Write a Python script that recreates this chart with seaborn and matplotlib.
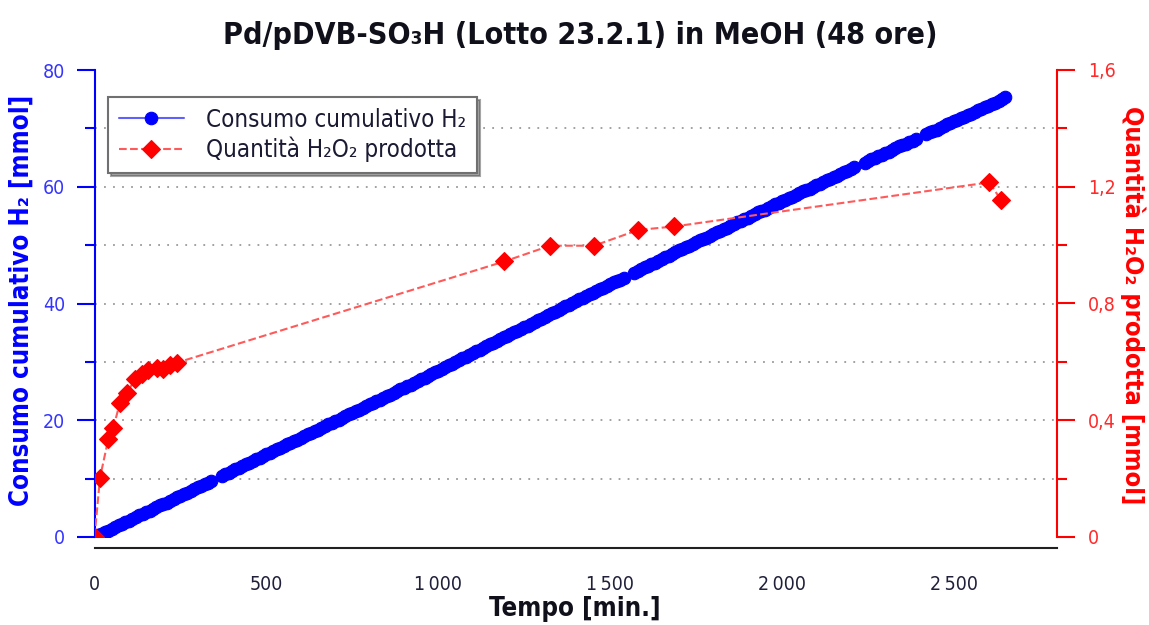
import matplotlib
matplotlib.use("Agg")
import matplotlib.pyplot as plt
import seaborn as sns
from matplotlib.ticker import FixedLocator, FixedFormatter, MultipleLocator

# ---------------- data ----------------
h2_time = [0, 10, 20, 30, 40, 50, 60, 70, 80, 90, 100,
           110, 120, 130, 140, 150, 160, 170, 180, 190, 200,
           210, 220, 230, 240, 250, 260, 270, 280, 290, 300,
           310, 320, 330, 340, 370, 380, 390, 400,
           410, 420, 430, 440, 450, 460, 470, 480, 490, 500,
           510, 520, 530, 540, 550, 560, 570, 580, 590, 600,
           610, 620, 630, 640, 650, 660, 670, 680, 690, 700,
           710, 720, 730, 740, 750, 760, 770, 780, 790, 800,
           810, 820, 830, 840, 850, 860, 870, 880, 890, 900,
           910, 920, 930, 940, 950, 960, 970, 980, 990, 1000,
           1010, 1020, 1030, 1040, 1050, 1060, 1070, 1080, 1090, 1100,
           1110, 1120, 1130, 1140, 1150, 1160, 1170, 1180, 1190, 1200,
           1210, 1220, 1230, 1240, 1250, 1260, 1270, 1280, 1290, 1300,
           1310, 1320, 1330, 1340, 1350, 1360, 1370, 1380, 1390, 1400,
           1410, 1420, 1430, 1440, 1450, 1460, 1470, 1480, 1490, 1500,
           1510, 1520, 1530, 1540, 1570, 1580, 1590, 1600,
           1610, 1620, 1630, 1640, 1650, 1660, 1670, 1680, 1690, 1700,
           1710, 1720, 1730, 1740, 1750, 1760, 1770, 1780, 1790, 1800,
           1810, 1820, 1830, 1840, 1850, 1860, 1870, 1880, 1890, 1900,
           1910, 1920, 1930, 1940, 1950, 1960, 1970, 1980, 1990, 2000,
           2010, 2020, 2030, 2040, 2050, 2060, 2070, 2080, 2090, 2100,
           2110, 2120, 2130, 2140, 2150, 2160, 2170, 2180, 2190, 2200,
           2210, 2240, 2250, 2260, 2270, 2280, 2290, 2300,
           2310, 2320, 2330, 2340, 2350, 2360, 2370, 2380, 2390,
           2420, 2430, 2440, 2450, 2460, 2470, 2480, 2490, 2500,
           2510, 2520, 2530, 2540, 2550, 2560, 2570, 2580, 2590, 2600,
           2610, 2620, 2630, 2640, 2650]
h2_mmol = [0.0, 0.3, 0.5, 0.8, 1.1, 1.4, 1.7, 2.0, 2.2, 2.5, 2.8,
           3.1, 3.4, 3.7, 4.0, 4.2, 4.5, 4.8, 5.1, 5.4, 5.7,
           5.9, 6.2, 6.5, 6.8, 7.1, 7.4, 7.6, 7.9, 8.2, 8.5,
           8.8, 9.1, 9.3, 9.6, 10.5, 10.8, 11.0, 11.3,
           11.6, 11.9, 12.2, 12.5, 12.7, 13.0, 13.3, 13.6, 13.9, 14.2,
           14.4, 14.7, 15.0, 15.3, 15.6, 15.9, 16.1, 16.4, 16.7, 17.0,
           17.3, 17.6, 17.9, 18.2, 18.4, 18.7, 19.0, 19.3, 19.6, 19.9,
           20.1, 20.4, 20.7, 21.0, 21.3, 21.6, 21.8, 22.1, 22.4, 22.7,
           23.0, 23.3, 23.5, 23.8, 24.1, 24.4, 24.7, 25.0, 25.3, 25.6,
           25.8, 26.1, 26.4, 26.7, 27.0, 27.3, 27.6, 27.9, 28.2, 28.5,
           28.8, 29.1, 29.4, 29.7, 30.0, 30.3, 30.6, 30.9, 31.2, 31.5,
           31.8, 32.1, 32.4, 32.7, 33.0, 33.3, 33.6, 33.9, 34.2, 34.5,
           34.8, 35.1, 35.3, 35.6, 35.9, 36.2, 36.5, 36.8, 37.1, 37.4,
           37.7, 38.0, 38.3, 38.6, 38.9, 39.2, 39.5, 39.8, 40.1, 40.4,
           40.7, 41.0, 41.3, 41.6, 41.8, 42.1, 42.4, 42.7, 43.0, 43.3,
           43.6, 43.9, 44.1, 44.4, 45.3, 45.6, 45.9, 46.2,
           46.5, 46.8, 47.0, 47.3, 47.6, 47.9, 48.2, 48.5, 48.8, 49.1,
           49.3, 49.6, 49.9, 50.2, 50.5, 50.8, 51.0, 51.3, 51.6, 51.9,
           52.2, 52.5, 52.7, 53.0, 53.3, 53.6, 53.9, 54.2, 54.4, 54.7,
           55.0, 55.3, 55.6, 55.9, 56.1, 56.4, 56.7, 57.0, 57.2, 57.5,
           57.8, 58.1, 58.3, 58.6, 58.9, 59.2, 59.4, 59.7, 60.0, 60.3,
           60.5, 60.8, 61.1, 61.4, 61.6, 61.9, 62.2, 62.5, 62.7, 63.0,
           63.3, 64.1, 64.4, 64.7, 64.9, 65.2, 65.5, 65.8,
           66.0, 66.3, 66.6, 66.9, 67.1, 67.4, 67.7, 67.9, 68.2,
           69.0, 69.3, 69.6, 69.8, 70.1, 70.4, 70.7, 70.9, 71.2,
           71.5, 71.7, 72.0, 72.3, 72.5, 72.8, 73.1, 73.4, 73.6, 73.9,
           74.2, 74.4, 74.7, 75.0, 75.3]

h2o2_time = [0, 16, 40, 55, 74, 94, 118, 137, 157, 181, 200, 220, 239,
             1192, 1325, 1453, 1582, 1687, 2603, 2637]
h2o2_mmol = [0.0, 0.203, 0.335, 0.375, 0.46, 0.494, 0.54, 0.557, 0.571, 0.58, 0.574, 0.59, 0.597,
             0.944, 0.998, 0.998, 1.052, 1.064, 1.215, 1.155]

x_ticks = [0, 500, 1000, 1500, 2000, 2500]
x_tick_labels = ["0", "500", "1\u2009000", "1\u2009500", "2\u2009000", "2\u2009500"]
left_ticks = [0, 20, 40, 60, 80]
left_tick_labels = ["0", "20", "40", "60", "80"]
right_ticks = [0, 0.4, 0.8, 1.2, 1.6]
right_tick_labels = ["0", "0,4", "0,8", "1,2", "1,6"]
grid_levels = [10, 20, 30, 40, 50, 60, 70]

title = "Pd/pDVB-SO\u2083H (Lotto 23.2.1) in MeOH (48 ore)"
xlabel = "Tempo [min.]"
ylabel_left = "Consumo cumulativo H\u2082 [mmol]"
ylabel_right = "Quantità H\u2082O\u2082 prodotta [mmol]"
label_h2 = "Consumo cumulativo H\u2082"
label_h2o2 = "Quantità H\u2082O\u2082 prodotta"

# ---------------- style ----------------
sns.set_style("white")
plt.rcParams["font.family"] = ["DejaVu Sans"]
plt.rcParams["font.stretch"] = "condensed"

BLUE = "#0000ff"
BLUE_LINE = "#6060ff"
BLUE_TXT = "#3535ff"
RED = "#ff0000"
RED_LINE = "#ff5a5a"

fig = plt.figure(figsize=(11.49, 6.25), dpi=100)
fig.patch.set_facecolor("white")
ax = fig.add_axes([94.5 / 1149, 88 / 625, 962.5 / 1149, 467 / 625])
ax2 = ax.twinx()

# dotted grid
for g in grid_levels:
    ax.axhline(g, linestyle=(0, (1, 4)), color="#9a9a9a", linewidth=1.3, zorder=0)

sns.lineplot(x=h2_time, y=h2_mmol, ax=ax, sort=False, estimator=None,
             color=BLUE_LINE, linewidth=1.5, marker="o", markersize=9,
             markerfacecolor=BLUE, markeredgecolor=BLUE, markeredgewidth=0.8,
             label=label_h2)
sns.lineplot(x=h2o2_time, y=h2o2_mmol, ax=ax2, sort=False, estimator=None,
             color=RED_LINE, linewidth=1.5, linestyle="--", dashes=(4, 2.5),
             marker="D", markersize=9,
             markerfacecolor=RED, markeredgecolor=RED, markeredgewidth=0.8,
             label=label_h2o2)

ax.set_xlim(0, 2800)
ax.set_ylim(0, 80)
ax2.set_ylim(0, 1.6)

# x axis
ax.xaxis.set_major_locator(FixedLocator(x_ticks))
ax.xaxis.set_major_formatter(FixedFormatter(x_tick_labels))
ax.xaxis.set_minor_locator(MultipleLocator(100))
ax.tick_params(axis="x", which="major", length=14, width=1.5, color="#202020",
               labelcolor="#20203a", labelsize=14, pad=5, direction="out")
ax.tick_params(axis="x", which="minor", length=8, width=1.5, color="#202020", direction="out")

# left axis
ax.yaxis.set_major_locator(FixedLocator(left_ticks))
ax.yaxis.set_major_formatter(FixedFormatter(left_tick_labels))
ax.yaxis.set_minor_locator(MultipleLocator(10))
ax.tick_params(axis="y", which="major", length=13, width=1.5, color=BLUE,
               labelcolor=BLUE_TXT, labelsize=14, pad=8, direction="out", left=True)
ax.tick_params(axis="y", which="minor", length=7, width=1.5, color=BLUE, direction="out", left=True)

# right axis
ax2.yaxis.set_major_locator(FixedLocator(right_ticks))
ax2.yaxis.set_major_formatter(FixedFormatter(right_tick_labels))
ax2.yaxis.set_minor_locator(MultipleLocator(0.2))
ax2.tick_params(axis="y", which="major", length=13, width=1.5, color=RED,
                labelcolor="#ff2a2a", labelsize=14, pad=9.5, direction="out", right=True)
ax2.tick_params(axis="y", which="minor", length=7, width=1.5, color=RED, direction="out", right=True)

# spines
for s in ["top", "right"]:
    ax.spines[s].set_visible(False)
ax.spines["left"].set_color(BLUE)
ax.spines["left"].set_linewidth(1.5)
ax.spines["bottom"].set_color("#202020")
ax.spines["bottom"].set_linewidth(1.5)
ax.spines["bottom"].set_position(("outward", 8))
for s in ["top", "left", "bottom"]:
    ax2.spines[s].set_visible(False)
ax2.spines["right"].set_color(RED)
ax2.spines["right"].set_linewidth(1.5)
ax.grid(False)
ax2.grid(False)

# labels
ax.set_xlabel(xlabel, fontsize=18.5, fontweight="bold", color="#10101a", va="center")
ax.xaxis.set_label_coords(0.499, -0.154)
ax.set_ylabel(ylabel_left, fontsize=18.5, fontweight="bold", color=BLUE, va="center")
ax.yaxis.set_label_coords(-0.0753, 0.507)
ax2.set_ylabel(ylabel_right, fontsize=18.3, fontweight="bold", color=RED, rotation=270, va="center")
ax2.yaxis.set_label_coords(1.079, 0.497)

fig.text(0.505, 1 - 36 / 625, title, ha="center", va="center",
         fontsize=21.8, fontweight="bold", color="#10101a")

# legend
h1, l1 = ax.get_legend_handles_labels()
h2, l2 = ax2.get_legend_handles_labels()
if ax.get_legend() is not None:
    ax.get_legend().remove()
leg = ax2.legend(h1 + h2, l1 + l2, loc="upper left", bbox_to_anchor=(0.014, 0.942),
                 fontsize=17.3, frameon=True, fancybox=False, shadow=True,
                 edgecolor="#707070", handlelength=2.7, handletextpad=0.95,
                 labelspacing=0.2, borderpad=0.45, borderaxespad=0)
leg.get_frame().set_linewidth(1.5)
for t in leg.get_texts():
    t.set_color("#1a1a33")

fig.savefig("out.png", dpi=100, facecolor="white")
